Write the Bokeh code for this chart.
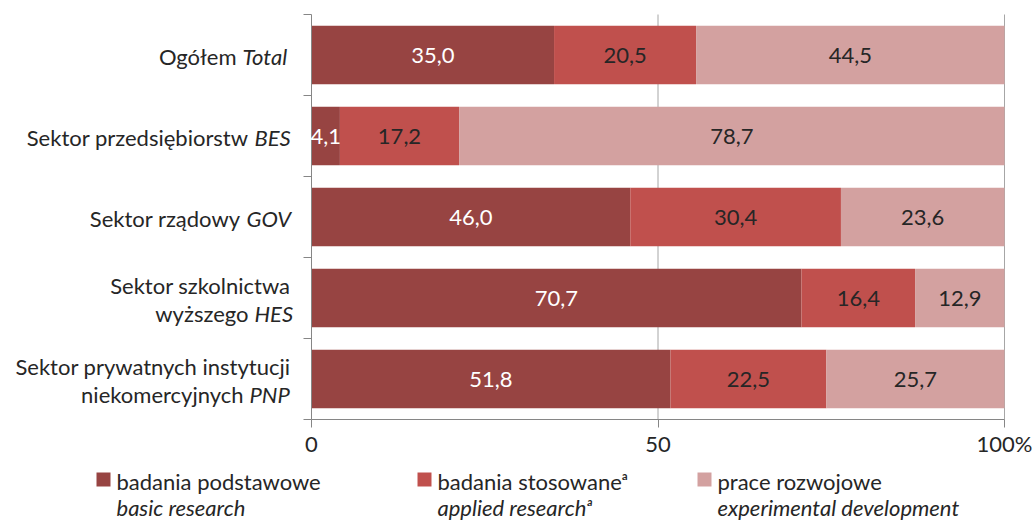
from bokeh.plotting import figure
from bokeh.models import Range1d, FixedTicker, ColumnDataSource, LabelSet, Label, BoxAnnotation
from bokeh.core.properties import value
from bokeh.embed import file_html
from bokeh.resources import INLINE

# ---------------- data ----------------
cat_main = [["Ogółem"], ["Sektor przedsiębiorstw"], ["Sektor rządowy"],
            ["Sektor szkolnictwa", "wyższego"],
            ["Sektor prywatnych instytucji", "niekomercyjnych"]]
cat_abbr = ["Total", "BES", "GOV", "HES", "PNP"]

basic = [35.0, 4.1, 46.0, 70.7, 51.8]
applied = [20.5, 17.2, 30.4, 16.4, 22.5]
experimental = [44.5, 78.7, 23.6, 12.9, 25.7]

series_pl = ["badania podstawowe", "badania stosowane\u1d43", "prace rozwojowe"]
series_en = ["basic research", "applied research\u1d43", "experimental development"]

x_ticks = [0, 50, 100]
x_tick_labels = ["0", "50", "100%"]
x_grid = [50, 100]

# ---------------- style / layout ----------------
colors = ["#974442", "#C0504D", "#D3A1A0"]
label_colors = ["#FFFFFF", "#262626", "#262626"]
FONT = "Lato"
FS = "22px"
TXT = "#262626"
AXC = "#868686"

W, H = 1036, 523
PLOT_L, PLOT_R, PLOT_T, PLOT_B = 311, 1004, 14, 419   # bar area in page px
NCAT = len(basic)
PXX = (PLOT_R - PLOT_L) / 100.0
PXY = (PLOT_B - PLOT_T) / NCAT

def dx(px):  # page px -> data x
    return (px - PLOT_L) / PXX

def dy(py):  # page px -> data y
    return (py - PLOT_T) / PXY

p = figure(width=W, height=H, output_backend="svg", toolbar_location=None,
           x_range=Range1d(dx(0), dx(W)), y_range=Range1d(dy(H), dy(0)),
           min_border=0, min_border_left=0, min_border_right=0,
           min_border_top=0, min_border_bottom=0)
p.outline_line_color = None
p.background_fill_color = "white"
p.xgrid.visible = False
p.ygrid.visible = False

ys = [i + 0.5 for i in range(NCAT)]

# vertical grid lines (under the bars)
p.segment(x0=x_grid, x1=x_grid, y0=[0] * len(x_grid), y1=[NCAT] * len(x_grid),
          line_color="#A6A6A6", line_width=1)

series = [basic, applied, experimental]
left = [0.0] * NCAT
for k, vals in enumerate(series):
    right = [l + v for l, v in zip(left, vals)]
    src = ColumnDataSource(dict(y=ys, left=left, right=right,
                                mid=[(l + r) / 2 for l, r in zip(left, right)],
                                txt=[f"{v:.1f}".replace(".", ",") for v in vals]))
    p.hbar(y="y", left="left", right="right", height=0.72, source=src,
           fill_color=colors[k], line_color=None)
    p.add_layout(LabelSet(x="mid", y="y", text="txt", source=src,
                          text_align="center", text_baseline="middle",
                          text_color=label_colors[k], text_font=value(FONT),
                          text_font_size=FS))
    left = right

# axes (fixed at the bar area edges)
p.xaxis.fixed_location = NCAT
p.xaxis.bounds = (0, 100)
p.xaxis.ticker = FixedTicker(ticks=x_ticks)
p.xaxis.major_label_overrides = {t: l for t, l in zip(x_ticks, x_tick_labels)}
p.xaxis.major_tick_in = 0
p.xaxis.major_tick_out = 8
p.xaxis.minor_tick_line_color = None
p.xaxis.axis_line_color = AXC
p.xaxis.major_tick_line_color = AXC
p.xaxis.major_label_text_font = FONT
p.xaxis.major_label_text_font_size = FS
p.xaxis.major_label_text_color = TXT
p.xaxis.major_label_standoff = 2

p.yaxis.fixed_location = 0
p.yaxis.bounds = (0, NCAT)
p.yaxis.ticker = FixedTicker(ticks=list(range(NCAT + 1)))
p.yaxis.major_label_overrides = {i: "" for i in range(NCAT + 1)}
p.yaxis.major_label_text_font_size = "0px"
p.yaxis.major_tick_in = 0
p.yaxis.major_tick_out = 8
p.yaxis.minor_tick_line_color = None
p.yaxis.axis_line_color = AXC
p.yaxis.major_tick_line_color = AXC

# category labels (normal part + italic abbreviation)
abbr_start_px = [242, 254, 246, 254, 249]
line_offsets = {1: [1.0], 2: [-13.0, 15.0]}
for i in range(NCAT):
    lines = cat_main[i]
    offs = line_offsets[len(lines)]
    for j, (txt, off) in enumerate(zip(lines, offs)):
        yv = ys[i] + off / PXY
        if j == len(lines) - 1:
            p.add_layout(Label(x=dx(abbr_start_px[i] - 6), y=yv, text=txt,
                               text_align="right", text_baseline="middle",
                               text_font=FONT, text_font_size=FS, text_color=TXT))
            p.add_layout(Label(x=dx(abbr_start_px[i]), y=yv, text=cat_abbr[i],
                               text_align="left", text_baseline="middle",
                               text_font=FONT, text_font_size=FS, text_color=TXT,
                               text_font_style="italic"))
        else:
            p.add_layout(Label(x=dx(290), y=yv, text=txt,
                               text_align="right", text_baseline="middle",
                               text_font=FONT, text_font_size=FS, text_color=TXT))

# legend
leg_marker_px = [96, 417, 697]
for k in range(3):
    m = leg_marker_px[k]
    p.add_layout(BoxAnnotation(left=dx(m), right=dx(m + 14), top=dy(472), bottom=dy(486),
                               fill_color=colors[k], fill_alpha=1.0, line_color=None))
    p.add_layout(Label(x=dx(m + 20), y=dy(481), text=series_pl[k],
                       text_align="left", text_baseline="middle",
                       text_font=FONT, text_font_size=FS, text_color=TXT))
    p.add_layout(Label(x=dx(m + 20), y=dy(507), text=series_en[k],
                       text_align="left", text_baseline="middle",
                       text_font=FONT, text_font_size=FS, text_color=TXT,
                       text_font_style="italic"))

open("out.html", "w").write(file_html(p, INLINE))
